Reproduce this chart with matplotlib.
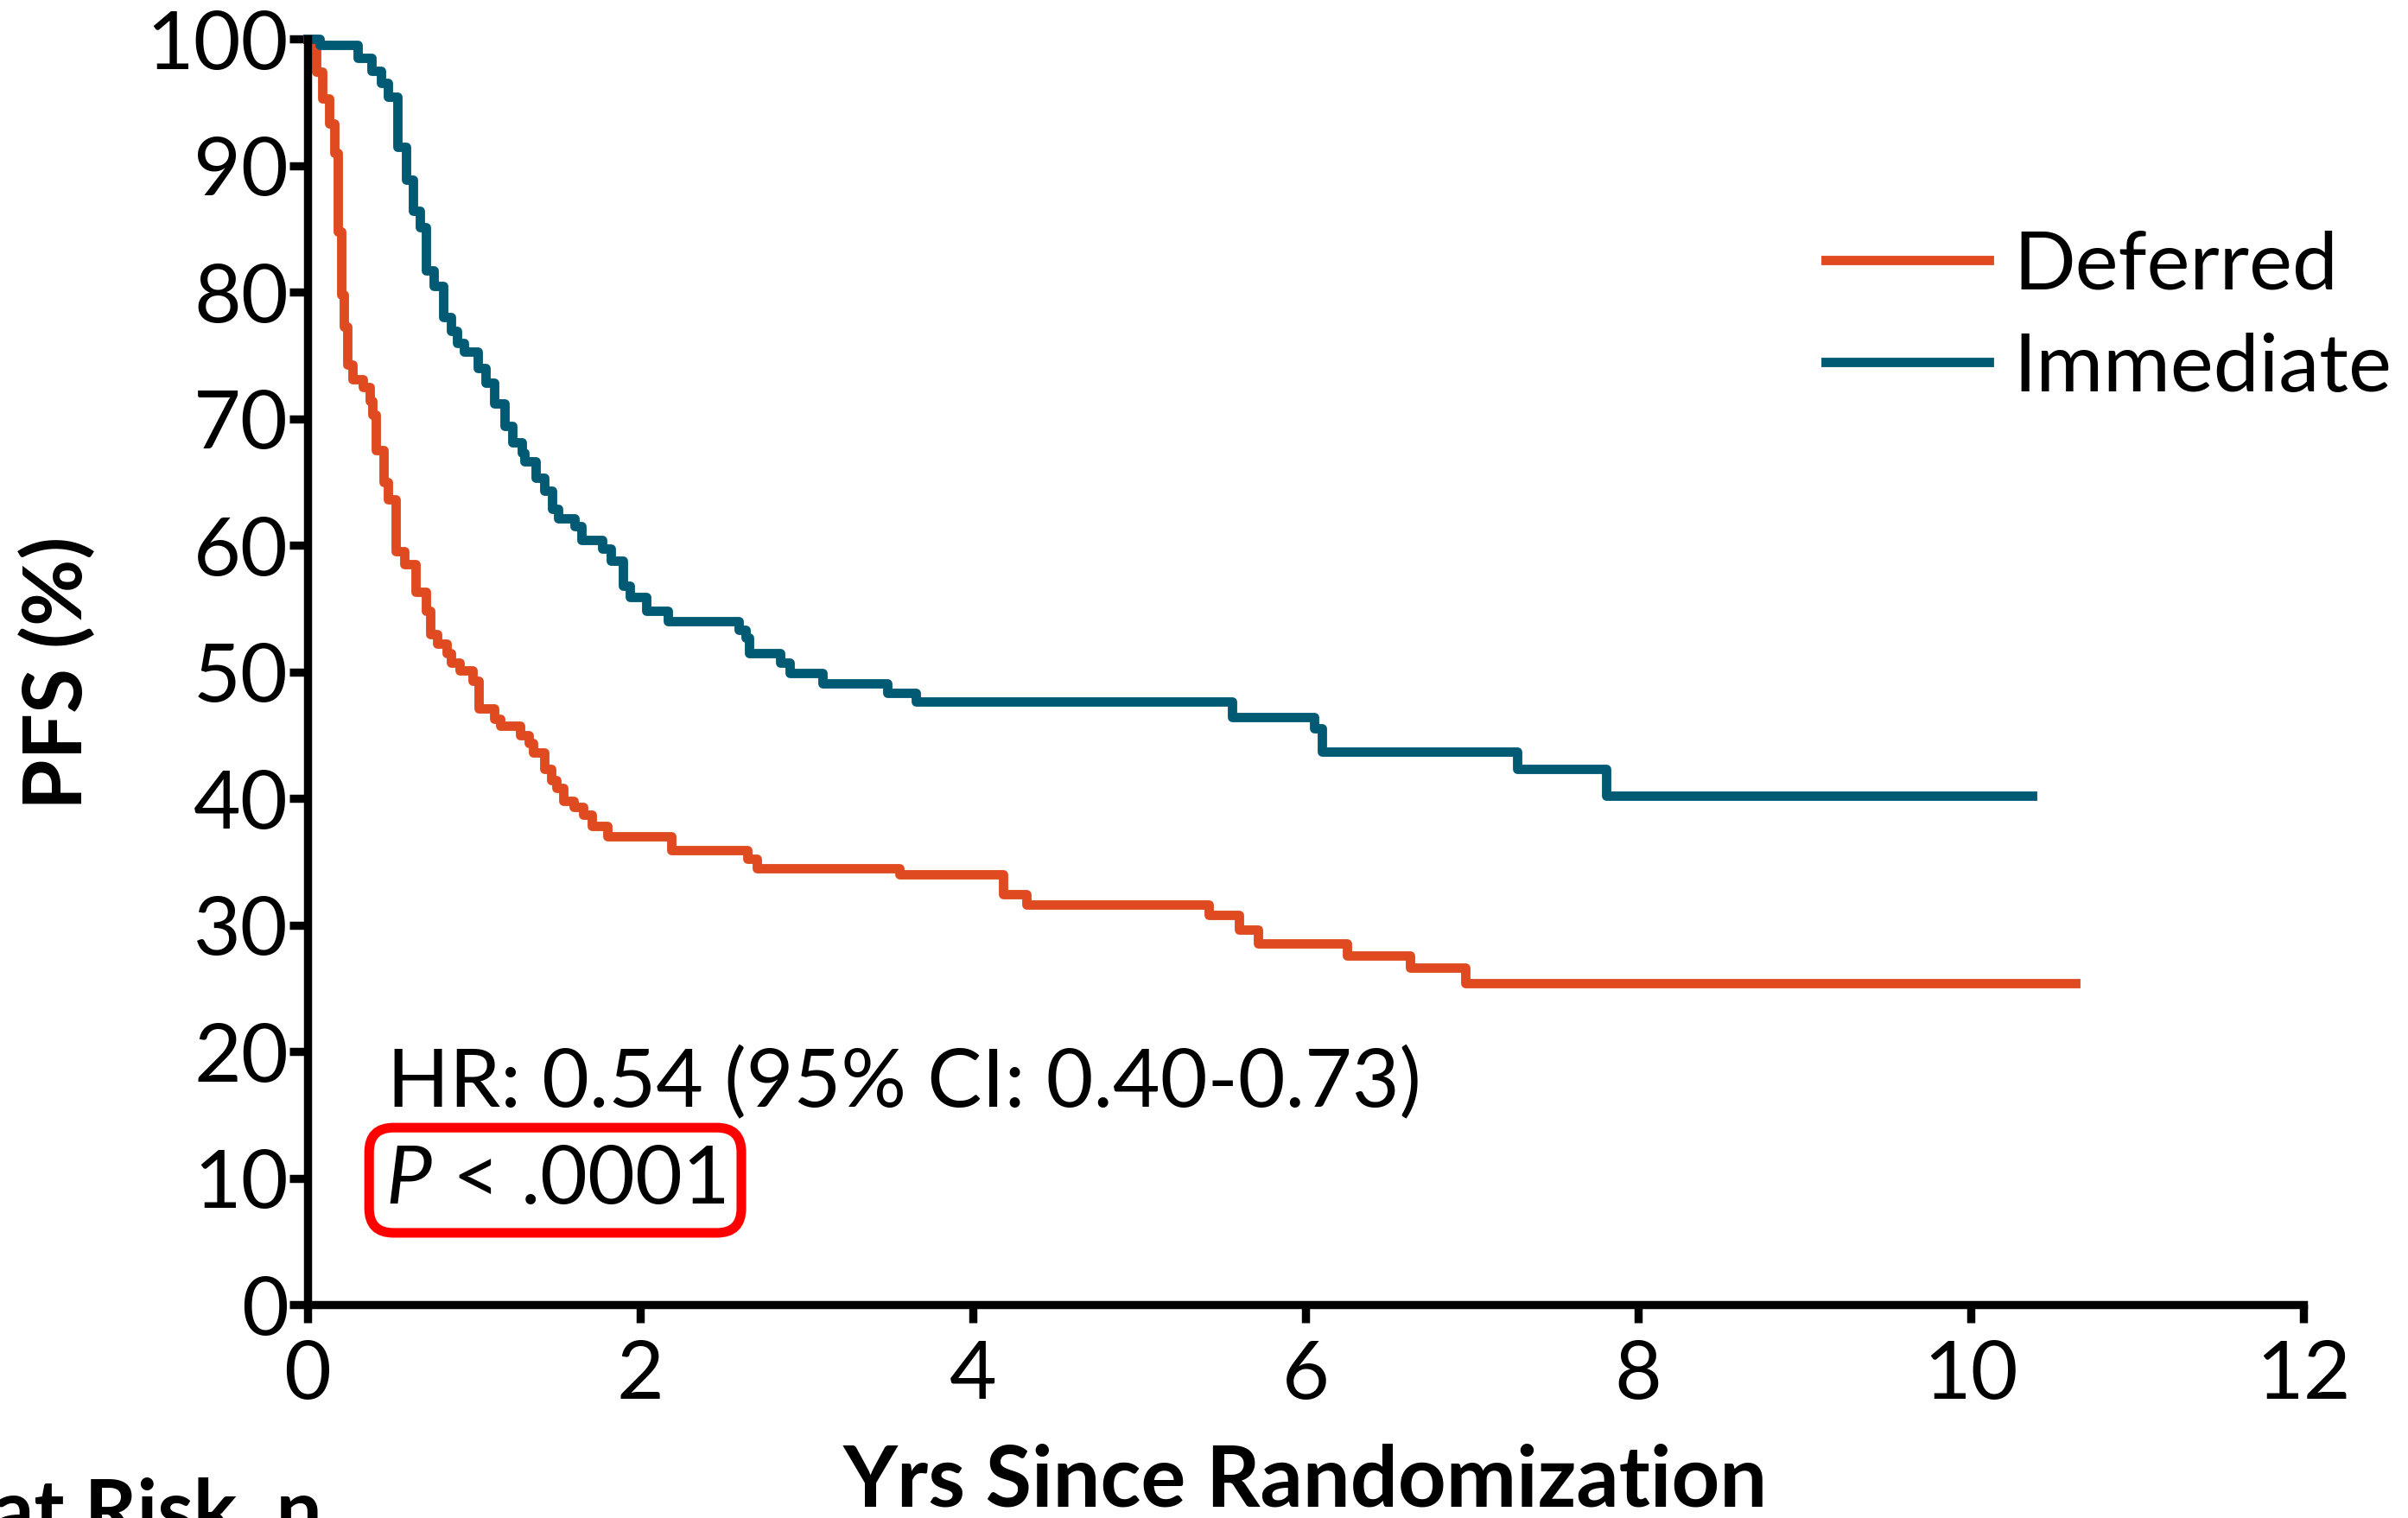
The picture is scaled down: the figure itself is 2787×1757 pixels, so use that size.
import matplotlib
matplotlib.use("Agg")
import matplotlib.pyplot as plt

# Kaplan-Meier steps (years, PFS %)
deferred_t = [0, 0.05, 0.09, 0.13, 0.16, 0.18, 0.20, 0.22, 0.24, 0.27, 0.33, 0.374, 0.39,
              0.41, 0.457, 0.482, 0.532, 0.584, 0.65, 0.714, 0.74, 0.78, 0.835, 0.86,
              0.913, 0.99, 1.026, 1.12, 1.156, 1.277, 1.33, 1.355, 1.424, 1.467, 1.498,
              1.537, 1.598, 1.658, 1.71, 1.805, 2.187, 2.646, 2.70, 3.56, 4.18, 4.32,
              5.42, 5.60, 5.715, 6.25, 6.63, 6.96]
deferred_pfs = [100, 97.4, 95.3, 93.3, 91.0, 84.8, 79.8, 77.3, 74.3, 73.1, 72.5, 71.4, 70.3,
                67.5, 65.0, 63.6, 59.5, 58.5, 56.3, 54.8, 53.0, 52.2, 51.5, 50.7,
                50.1, 49.3, 47.1, 46.3, 45.7, 45.0, 44.4, 43.6, 42.3, 41.4, 40.8,
                39.8, 39.3, 38.7, 37.8, 37.0, 35.9, 35.2, 34.5, 34.0, 32.45, 31.6,
                30.8, 29.6, 28.5, 27.6, 26.6, 25.4]
deferred_end = 10.63

immediate_t = [0, 0.073, 0.30, 0.385, 0.44, 0.485, 0.54, 0.593, 0.633, 0.674, 0.714, 0.757,
               0.814, 0.861, 0.90, 0.939, 1.022, 1.069, 1.121, 1.187, 1.233, 1.29, 1.305,
               1.372, 1.424, 1.471, 1.507, 1.606, 1.647, 1.773, 1.824, 1.897, 1.939, 2.037,
               2.167, 2.594, 2.636, 2.656, 2.843, 2.90, 3.098, 3.485, 3.657, 5.556, 6.054,
               6.10, 7.274, 7.81]
immediate_pfs = [100, 99.5, 98.5, 97.5, 96.5, 95.4, 91.5, 88.9, 86.4, 85.1, 81.7, 80.5,
                 78.0, 76.9, 76.0, 75.3, 74.0, 72.8, 71.2, 69.4, 68.1, 67.3, 66.6,
                 65.3, 64.3, 62.9, 62.1, 61.5, 60.4, 59.7, 58.8, 56.8, 55.9, 54.8,
                 54.0, 53.3, 52.7, 51.5, 50.7, 49.9, 49.1, 48.3, 47.65, 46.4, 45.55,
                 43.7, 42.3, 40.2]
immediate_end = 10.37

x_ticks = [0, 2, 4, 6, 8, 10, 12]
y_ticks = [0, 10, 20, 30, 40, 50, 60, 70, 80, 90, 100]

red = "#E04A20"
blue = "#005A73"

plt.rcParams["font.family"] = ["Lato", "DejaVu Sans"]
plt.rcParams["mathtext.fontset"] = "custom"
plt.rcParams["mathtext.it"] = "Lato:italic"
plt.rcParams["mathtext.rm"] = "Lato"

W, H = 2787, 1758
fig = plt.figure(figsize=(W / 200, H / 200), dpi=200)
ax = fig.add_axes([356 / W, 1 - 1511 / H, (2666 - 356) / W, (1511 - 46) / H])

ax.step(deferred_t + [deferred_end], deferred_pfs + [deferred_pfs[-1]], where="post",
        color=red, lw=3.9, clip_on=False, label="Deferred")
ax.step(immediate_t + [immediate_end], immediate_pfs + [immediate_pfs[-1]], where="post",
        color=blue, lw=3.9, clip_on=False, label="Immediate")

ax.set_xlim(0, 12)
ax.set_ylim(0, 100)
ax.set_xticks(x_ticks)
ax.set_yticks(y_ticks)
for s in ["top", "right"]:
    ax.spines[s].set_visible(False)
for s in ["left", "bottom"]:
    ax.spines[s].set_linewidth(3.4)
ax.tick_params(axis="both", width=3.4, length=7.5, labelsize=34)
ax.tick_params(axis="y", pad=0.5)
ax.tick_params(axis="x", pad=7)

ax.set_xlabel("Yrs Since Randomization", fontsize=35, fontweight="bold")
ax.xaxis.label.set_va("baseline")
ax.xaxis.set_label_coords(0.5, -0.159)
ax.set_ylabel("PFS (%)", fontsize=34, fontweight="bold")
ax.yaxis.label.set_va("center")
ax.yaxis.set_label_coords(-0.1251, 0.5)

ax.text(0.478, 15.7, "HR: 0.54 (95% CI: 0.40-0.73)", fontsize=34, va="baseline")
ax.text(0.468, 8.05, r"$P$ < .0001", fontsize=34, va="baseline",
        bbox=dict(boxstyle="round,pad=0.2,rounding_size=0.3", fc="none", ec="#FF0000", lw=4))

ax.legend(loc="center left", bbox_to_anchor=(2113 / W, 1 - 368 / H), bbox_transform=fig.transFigure,
          frameon=False, fontsize=34, handlelength=2.0, handletextpad=0.3, borderpad=0,
          borderaxespad=0, labelspacing=0.36)

fig.text(373 / W, 1 - 1780 / H, "Pts at Risk, n", fontsize=34, fontweight="bold",
         ha="right", va="baseline")

fig.savefig("out.png", dpi=200)
